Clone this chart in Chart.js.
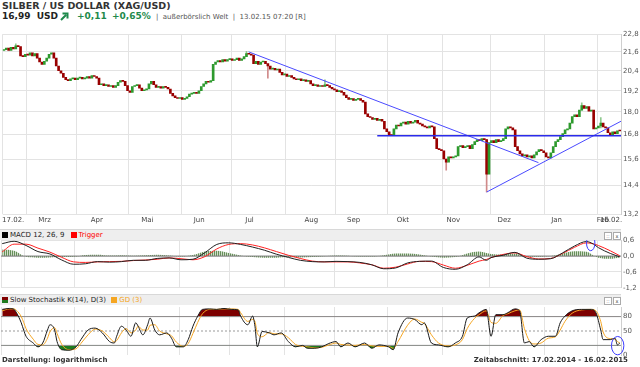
<!DOCTYPE html>
<html>
<head>
<meta charset="utf-8">
<script src="https://cdn.jsdelivr.net/npm/chart.js@4.4.1/dist/chart.umd.min.js"></script>
<style>
  body { margin: 0; width: 640px; height: 367px; overflow: hidden; background: #fff; position: relative; font-family: "DejaVu Sans", Verdana, sans-serif; }
  canvas { position: absolute; left: 0; }
  .t { position: absolute; white-space: nowrap; }
  .bar { position: absolute; left: 0; width: 621px; height: 10px; background: #eeeeee; border-top: 1px solid #d8d8d8; font-size: 7px; line-height: 10px; color: #222; z-index: 2; }
  .sq { display: inline-block; width: 6px; height: 6px; margin: 0 2px 0 2px; vertical-align: -1px; }
  .btn { position: absolute; top: 2px; width: 6px; height: 6px; border: 1px solid #aaa; background: #fff; font-size: 5px; line-height: 6px; text-align: center; color: #444; }
  .green { color: #1f8a4c; }
</style>
</head>
<body>
<div class="t" style="left:2px;top:0px;font-size:9.5px;font-weight:bold;color:#333">SILBER / US DOLLAR (XAG/USD)</div>
<div class="t" style="left:2px;top:11px;font-size:9px;font-weight:bold;color:#222">16,99 &nbsp;USD</div>
<svg class="t" style="left:60px;top:12px" width="9" height="9" viewBox="0 0 9 9"><path d="M1 8 L6 3 M2.5 1.5 L7.5 1.5 L7.5 6.5" stroke="#1f8a4c" stroke-width="2" fill="none"/></svg>
<div class="t green" style="left:77px;top:11px;font-size:9px;font-weight:bold">+0,11</div>
<div class="t green" style="left:112px;top:11px;font-size:9px;font-weight:bold">+0,65%</div>
<div class="t" style="left:156px;top:13px;font-size:7px;color:#555">|&nbsp; außerbörslich Welt &nbsp;|&nbsp; 13.02.15 07:20 [R]</div>

<canvas id="price" width="640" height="202" style="top:28px"></canvas>
<canvas id="macd" width="640" height="60" style="top:234px"></canvas>
<canvas id="stoch" width="640" height="62" style="top:300px"></canvas>

<div class="bar" style="top:229px"><span class="sq" style="background:#000"></span>MACD 12, 26, 9 <span class="sq" style="background:#f00;margin-left:4px"></span><span style="color:#f00">Trigger</span>
  <div class="btn" style="left:604px">::</div><div class="btn" style="left:613px">x</div></div>
<div class="bar" style="top:294px"><span class="sq" style="background:linear-gradient(#800000 50%,#1d7a1d 50%)"></span>Slow Stochastik K(14), D(3) <span class="sq" style="background:#f5a623;margin-left:3px"></span><span style="color:#f5a623">GD (3)</span>
  <div class="btn" style="left:604px">::</div><div class="btn" style="left:613px">x</div></div>

<div class="t" style="left:2px;top:356px;font-size:7px;font-weight:bold;color:#333">Darstellung: logarithmisch</div>
<div class="t" style="right:12px;top:356px;font-size:7px;font-weight:bold;color:#333">Zeitabschnitt: 17.02.2014 - 16.02.2015</div>

<script>
// trading days 17.02.2014 .. 13.02.2015, index 0..259
const monthStarts = [0, 10, 31, 53, 75, 96, 119, 140, 162, 185, 205, 228, 250];
const axisLabels = ['17.02.', 'Mrz', 'Apr', 'Mai', 'Jun', 'Jul', 'Aug', 'Sep', 'Okt', 'Nov', 'Dez', 'Jan', 'Feb', '16.02.'];
const axisLabelDays = [3.9, 17.1, 39.1, 60.3, 82.1, 103.3, 129.3, 147.1, 167.8, 189.0, 210.4, 232.4, 251.9, 255.3];

const priceTicks = [13.2, 14.4, 15.6, 16.8, 18.0, 19.2, 20.4, 21.6, 22.8];
const macdTicks = [-1.2, -0.6, 0, 0.6];
const stochTicks = [0, 50, 80];
const stochLevels = [80, 50, 20];

const firstOpen = 21.70;
const closes = [
  21.75, 21.85, 21.70, 21.90, 21.80, 22.00, 21.95, 21.35, 21.30, 21.45,
  21.40, 21.55, 21.35, 21.50, 21.20, 20.95, 20.80, 21.00, 21.20, 21.45,
  21.55, 21.20, 20.70, 20.40, 20.25, 20.00, 19.85, 19.80, 19.90, 19.95,
  19.85, 19.95, 20.00, 19.90, 19.95, 20.05, 19.95, 20.10, 20.05, 19.95,
  19.55, 19.60, 19.50, 19.55, 19.45, 19.50, 19.40, 19.50, 19.70, 19.80,
  19.75, 19.50, 19.20, 19.10, 19.45, 19.50, 19.55, 19.35, 19.20, 19.25,
  19.30, 19.60, 19.75, 19.55, 19.40, 19.45, 19.35, 19.45, 19.40, 19.30,
  19.05, 18.90, 18.80, 18.75, 18.80, 18.70, 18.75, 18.85, 19.00, 19.05,
  19.10, 19.05, 19.20, 19.45, 19.60, 19.75, 19.70, 19.80, 20.80, 20.95,
  21.05, 20.95, 21.10, 21.00, 21.10, 21.15, 21.05, 21.10, 21.20, 21.05,
  21.15, 21.30, 21.50, 21.45, 21.40, 20.85, 21.00, 20.80, 20.95, 21.00,
  20.85, 20.70, 20.50, 20.55, 20.45, 20.50, 20.30, 20.15, 20.20, 20.05,
  20.10, 20.00, 19.90, 19.85, 19.90, 19.80, 19.85, 19.75, 19.80, 19.60,
  19.50, 19.55, 19.45, 19.50, 19.45, 19.55, 19.50, 19.40, 19.30, 19.25,
  19.15, 19.20, 19.10, 18.95, 18.80, 18.70, 18.75, 18.65, 18.70, 18.75,
  18.65, 18.55, 17.90, 17.75, 17.70, 17.60, 17.65, 17.55, 17.60, 17.50,
  17.10, 16.95, 16.80, 16.75, 17.10, 17.30, 17.25, 17.40, 17.45, 17.35,
  17.50, 17.40, 17.45, 17.55, 17.40, 17.35, 17.25, 17.20, 17.15, 17.25,
  17.20, 16.60, 16.10, 16.05, 16.00, 15.60, 15.45, 15.70, 15.65, 15.70,
  15.75, 16.20, 16.25, 16.15, 16.20, 16.25, 16.10, 16.30, 16.45, 16.55,
  16.50, 16.60, 16.55, 14.90, 16.40, 16.50, 16.40, 16.55, 16.45, 16.50,
  16.60, 17.10, 17.20, 17.15, 17.05, 16.20, 16.00, 15.85, 15.75, 15.80,
  15.70, 15.75, 15.65, 15.80, 15.95, 16.05, 16.00, 15.90, 15.70, 15.65,
  15.90, 16.20, 16.45, 16.55, 16.70, 16.85, 17.05, 17.10, 17.40, 17.75,
  17.85, 17.75, 18.10, 18.35, 18.20, 18.30, 18.05, 18.10, 17.10, 17.15,
  17.25, 17.40, 17.20, 17.15, 16.90, 16.80, 16.95, 16.85, 17.00, 16.99
];
// notable wicks only
const wickDays  = [5, 102, 111, 135, 186, 203, 243, 251];
const wickLows  = [21.90, 21.35, 19.95, 19.45, 15.08, 14.12, 18.10, 17.15];
const wickHighs = [22.15, 21.65, 20.70, 19.85, 15.60, 16.55, 18.50, 17.70];

// trend lines (day index, price)
const resistDays = [102.9, 224.8], resistValues = [21.61, 15.43];
const supportDays = [203.0, 259.5], supportValues = [14.11, 17.50];
const levelDays = [157, 259.5], levelValue = 16.75;

// MACD 12,26,9
const macdDays = [0, 5, 10, 15, 20, 25, 30, 35, 40, 45, 50, 55, 60, 65, 70, 75, 80, 85, 90, 95,
  100, 105, 110, 115, 120, 125, 130, 135, 140, 145, 150, 155, 160, 165, 170, 175, 180, 185, 190, 195,
  200, 203, 205, 210, 215, 220, 225, 230, 235, 240, 245, 248, 250, 255, 259];
const macdLine = [0.47, 0.56, 0.40, 0.17, 0.08, -0.15, -0.31, -0.29, -0.21, -0.23,
  -0.21, -0.16, -0.16, -0.09, -0.07, -0.14, -0.12, 0.13, 0.44, 0.50,
  0.44, 0.34, 0.22, 0.07, -0.05, -0.16, -0.21, -0.22, -0.20, -0.21,
  -0.24, -0.33, -0.48, -0.45, -0.26, -0.20, -0.19, -0.43, -0.50, -0.33,
  -0.03, -0.16, -0.06, 0.03, 0.14, -0.08, -0.12, -0.10, 0.12, 0.38, 0.55, 0.45, 0.32, 0.10, -0.03];
const triggerLine = [0.16, 0.45, 0.45, 0.30, 0.15, -0.05, -0.22, -0.24, -0.22, -0.21,
  -0.20, -0.17, -0.15, -0.12, -0.07, -0.10, -0.14, -0.02, 0.27, 0.44,
  0.47, 0.42, 0.31, 0.17, 0.03, -0.09, -0.19, -0.22, -0.22, -0.22,
  -0.26, -0.33, -0.46, -0.42, -0.30, -0.20, -0.21, -0.34, -0.46, -0.35,
  -0.19, -0.13, -0.06, 0.06, 0.12, -0.02, -0.11, -0.09, 0.10, 0.33, 0.50, 0.46, 0.40, 0.20, 0.01];
const macdHist = [0.25, 0.20, -0.03, -0.06, -0.05, -0.04, -0.03, 0.04, 0.05, 0.02,
  0.03, 0.01, 0.03, 0.05, 0.02, -0.02, 0.04, 0.17, 0.20, 0.12,
  0.02, -0.04, -0.06, -0.06, -0.04, -0.05, -0.04, -0.01, 0.02, 0.01,
  -0.02, -0.02, 0.03, 0.10, 0.10, 0.06, -0.02, -0.06, -0.04, 0.10,
  0.17, 0.12, 0.08, 0.06, 0.10, -0.03, -0.03, 0.00, 0.10, 0.18, 0.16, 0.02, -0.06, -0.10, -0.05];

// Slow stochastic K(14), D(3)
const stochDays = [0, 3, 5, 6, 8, 9, 10, 13, 15, 17, 19, 20, 22, 23, 25, 28, 31, 33, 36, 39,
  42, 45, 47, 48, 50, 52, 54, 56, 57, 59, 61, 62, 64, 66, 69, 71, 73, 76, 78, 80,
  82, 84, 87, 90, 93, 96, 99, 100, 103, 105, 106, 107, 109, 112, 114, 117, 120, 123, 126, 128,
  131, 134, 137, 140, 142, 145, 148, 152, 155, 158, 162, 164, 166, 170, 173, 176, 177, 180, 183, 187,
  190, 193, 195, 198, 200, 203, 205, 207, 210, 212, 215, 217, 219, 221, 223, 226, 229, 232, 234, 236,
  239, 243, 247, 249, 251, 252, 255, 257, 258, 259];
const stochK = [95, 97, 95, 88, 67, 52, 39, 25, 17, 25, 52, 63, 52, 28, 11, 10, 17, 32, 52, 56,
  46, 28, 25, 39, 60, 52, 39, 67, 60, 42, 63, 77, 52, 42, 46, 35, 17, 17, 32, 60,
  81, 95, 96, 95, 97, 95, 94, 81, 63, 81, 60, 17, 49, 46, 42, 46, 28, 17, 20, 14,
  14, 17, 24, 28, 17, 25, 17, 25, 14, 21, 17, 11, 46, 77, 74, 63, 67, 25, 21, 17,
  25, 39, 77, 81, 88, 95, 39, 84, 84, 88, 96, 92, 25, 28, 17, 32, 39, 39, 67, 81,
  92, 95, 95, 88, 52, 32, 32, 35, 21, 25];
const stochD = [92, 96, 96, 93, 80, 68, 55, 33, 22, 21, 35, 48, 57, 45, 22, 11, 13, 24, 42, 54,
  50, 36, 27, 30, 46, 55, 46, 52, 60, 52, 52, 62, 63, 50, 44, 40, 27, 18, 24, 45,
  68, 86, 95, 95, 96, 96, 95, 88, 70, 74, 70, 45, 38, 47, 44, 44, 36, 22, 18, 17,
  15, 16, 21, 25, 22, 21, 20, 22, 19, 18, 18, 14, 28, 62, 75, 68, 66, 42, 25, 19,
  21, 32, 55, 76, 84, 92, 68, 66, 82, 86, 92, 94, 55, 30, 23, 25, 35, 38, 52, 70,
  87, 94, 95, 92, 70, 48, 34, 33, 28, 25];

// highlighted spots (blue ellipses)
const macdMark = {day: 246.8, value: 0.49, rx: 4.2, ry: 7.6};
const stochMark = {day: 258.1, value: 19.5, rx: 6.2, ry: 9.2};

const N = closes.length;
const FONT = 'DejaVu Sans';
const GRID = '#e3e3e3';
const comma = v => v.toFixed(1).replace('.', ',');
const pts = (xs, ys) => xs.map((x, k) => ({x: x, y: ys[k]}));

const opens = closes.map((c, i) => i ? closes[i - 1] : firstOpen);

const markerPlugin = {
  id: 'marker',
  afterDatasetsDraw(chart, args, opts) {
    if (!opts || opts.day === undefined) return;
    const {ctx, scales} = chart;
    ctx.save();
    ctx.strokeStyle = '#3b3bff';
    ctx.lineWidth = 1;
    ctx.beginPath();
    ctx.ellipse(scales.x.getPixelForValue(opts.day), scales.y.getPixelForValue(opts.value), opts.rx, opts.ry, 0, 0, Math.PI * 2);
    ctx.stroke();
    ctx.restore();
  }
};

function gridX() {
  return {
    type: 'linear', min: -0.5, max: N - 0.5, offset: false,
    afterBuildTicks: s => { s.ticks = monthStarts.map(d => ({value: d - 0.5})); },
    afterFit: s => { s.height = 0; },
    ticks: {display: false},
    grid: {color: GRID, drawTicks: false, offset: false},
    border: {display: false}
  };
}

function baseOptions(padding, scales, marker) {
  return {
    responsive: false,
    maintainAspectRatio: false,
    devicePixelRatio: 1,
    animation: false,
    layout: {padding: padding},
    plugins: {legend: {display: false}, tooltip: {enabled: false}, marker: marker || {}},
    elements: {point: {radius: 0}},
    scales: scales
  };
}

// ---- price chart
new Chart(document.getElementById('price'), {
  type: 'line',
  data: {
    datasets: [
      {
        label: 'level', data: pts(levelDays, [levelValue, levelValue]),
        borderColor: '#2b2bea', borderWidth: 1.5, pointRadius: 0
      },
      {
        label: 'resist', data: pts(resistDays, resistValues),
        borderColor: '#4a4aff', borderWidth: 1, pointRadius: 0
      },
      {
        label: 'support', data: pts(supportDays, supportValues),
        borderColor: '#4a4aff', borderWidth: 1, pointRadius: 0
      },
      {
        type: 'bar', label: 'candles',
        data: closes.map((c, i) => ({x: i, y: [opens[i], c]})),
        backgroundColor: closes.map((c, i) => c >= opens[i] ? '#2e9a2e' : '#990000'),
        barThickness: 2, minBarLength: 1, grouped: false
      },
      {
        type: 'bar', label: 'wicks',
        data: wickDays.map((d, k) => ({x: d, y: [wickLows[k], wickHighs[k]]})),
        backgroundColor: wickDays.map(d => closes[d] >= opens[d] ? '#8fc98f' : '#d08a8a'),
        barThickness: 1, grouped: false
      }
    ]
  },
  options: baseOptions({left: 1, top: 5, right: 0, bottom: 0}, {
    x: gridX(),
    xl: {
      type: 'linear', position: 'bottom', min: -0.5, max: N - 0.5, offset: false,
      afterBuildTicks: s => { s.ticks = axisLabelDays.map(d => ({value: d})); },
      afterFit: s => { s.height = 16; },
      grid: {display: false, drawTicks: false, offset: false},
      border: {display: false},
      ticks: {
        autoSkip: false, maxRotation: 0, padding: 2, color: '#444',
        font: {family: FONT, size: 7},
        callback: (v, i) => axisLabels[i]
      }
    },
    y: {
      type: 'logarithmic', position: 'right', min: 13.2, max: 22.8,
      afterBuildTicks: s => { s.ticks = priceTicks.map(v => ({value: v})); },
      afterFit: s => { s.width = 19; },
      grid: {color: GRID, drawTicks: false},
      border: {color: '#cfcfcf'},
      ticks: {color: '#555', padding: 2, font: {family: FONT, size: 7}, callback: v => comma(v)}
    }
  }),
  plugins: [markerPlugin]
});

// ---- MACD
const pc = document.createElement('canvas');
pc.width = 2; pc.height = 1;
const pctx = pc.getContext('2d');
pctx.fillStyle = '#66905a'; pctx.fillRect(0, 0, 1, 1);
pctx.fillStyle = '#cfdcc8'; pctx.fillRect(1, 0, 1, 1);
const histPattern = pctx.createPattern(pc, 'repeat');

new Chart(document.getElementById('macd'), {
  type: 'line',
  data: {
    datasets: [
      {label: 'MACD', data: pts(macdDays, macdLine), borderColor: '#222', borderWidth: 1, cubicInterpolationMode: 'monotone', order: 0},
      {label: 'Trigger', data: pts(macdDays, triggerLine), borderColor: '#ff2222', borderWidth: 1, cubicInterpolationMode: 'monotone', order: 1},
      {label: 'zero', data: pts([-0.5, N - 0.5], [0, 0]), borderColor: '#7a7a7a', borderWidth: 1, order: 2},
      {label: 'hist', data: pts(macdDays, macdHist), borderWidth: 0, borderColor: 'rgba(0,0,0,0)', fill: 'origin', backgroundColor: histPattern, cubicInterpolationMode: 'monotone', order: 3}
    ]
  },
  options: baseOptions({left: 1, top: 6, right: 0, bottom: 6}, {
    x: gridX(),
    y: {
      position: 'right', min: -1.2, max: 0.6,
      afterBuildTicks: s => { s.ticks = macdTicks.map(v => ({value: v})); },
      afterFit: s => { s.width = 19; },
      grid: {color: GRID, drawTicks: false},
      border: {color: '#cfcfcf'},
      ticks: {color: '#555', padding: 2, font: {family: FONT, size: 7}, callback: v => comma(v)}
    }
  }, macdMark),
  plugins: [markerPlugin]
});

// ---- Slow Stochastik
const kPts = pts(stochDays, stochK);
const levelSets = stochLevels.map(l => ({
  label: 'L' + l, data: pts([-0.5, N - 0.5], [l, l]),
  borderColor: l === 50 ? '#999' : '#8a8a8a', borderWidth: 1, borderDash: l === 50 ? [2, 2] : [], order: 3
}));
new Chart(document.getElementById('stoch'), {
  type: 'line',
  data: {
    datasets: [
      {label: 'K', data: kPts, borderColor: '#1a1a1a', borderWidth: 1, cubicInterpolationMode: 'monotone', order: 0},
      {label: 'D', data: pts(stochDays, stochD), borderColor: '#f5a623', borderWidth: 1, cubicInterpolationMode: 'monotone', order: 1},
      ...levelSets,
      {label: 'ob', data: kPts, borderWidth: 0, borderColor: 'rgba(0,0,0,0)', cubicInterpolationMode: 'monotone',
        fill: {target: {value: 80}, above: '#7d0000', below: 'rgba(0,0,0,0)'}, order: 5},
      {label: 'os', data: kPts, borderWidth: 0, borderColor: 'rgba(0,0,0,0)', cubicInterpolationMode: 'monotone',
        fill: {target: {value: 20}, above: 'rgba(0,0,0,0)', below: '#1d7d1d'}, order: 6}
    ]
  },
  options: baseOptions({left: 1, top: 7, right: 0, bottom: 7}, {
    x: gridX(),
    y: {
      position: 'right', min: 0, max: 100,
      afterBuildTicks: s => { s.ticks = stochTicks.map(v => ({value: v})); },
      afterFit: s => { s.width = 19; },
      grid: {display: false, drawTicks: false},
      border: {color: '#cfcfcf'},
      ticks: {color: '#555', padding: 2, font: {family: FONT, size: 7}, callback: v => String(v)}
    }
  }, stochMark),
  plugins: [markerPlugin]
});
</script>
</body>
</html>
